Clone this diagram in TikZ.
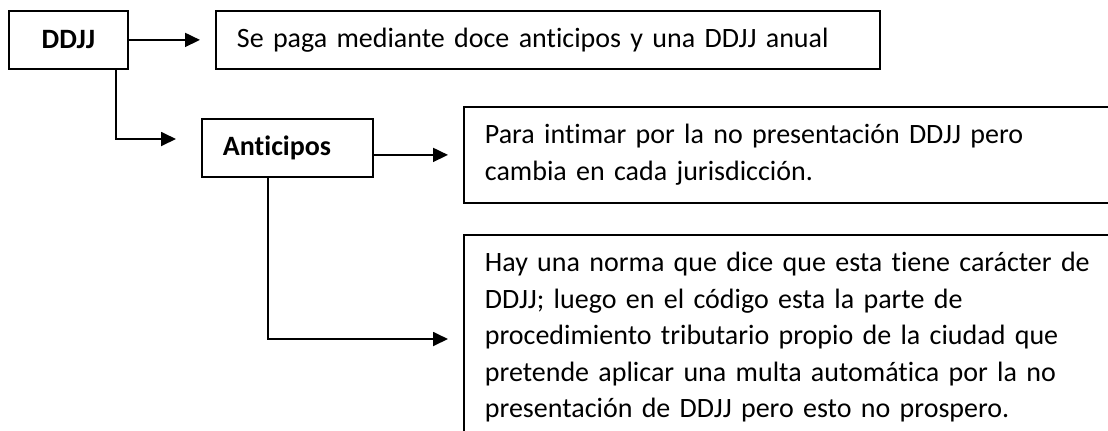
\documentclass[tikz,border=0pt]{standalone}
\usepackage{fontspec}
\setmainfont{Carlito}[Ligatures=NoCommon]
\usetikzlibrary{arrows.meta}
\newcommand\boxfont{\fontsize{14}{18.25}\selectfont}
\tikzset{
	box/.style={draw, line width=0.9pt, anchor=north west, inner xsep=10.5pt, inner ysep=0pt, align=left, font=\boxfont},
	arr/.style={line width=0.9pt, -{Triangle[length=7.5pt,width=7pt]}, shorten >=7.5pt},
}

\begin{document}
\begin{tikzpicture}[x=0.5pt, y=-0.5pt]
			%%%%% START %%%%%
			
			\clip (0, 0) rectangle (1108, 430);
			\fill[white] (0, 0) rectangle (1108, 430);
			
			\node[box, align=center, inner xsep=0pt, minimum width=59.5pt, minimum height=29pt, font=\boxfont\bfseries] (ddjj) at (8, 10) {DDJJ};
			\node[box, text width=311pt, minimum height=29pt] (pago) at (215, 10) {\mbox{Se paga mediante doce anticipos y una DDJJ anual}};
			
			\node[box, text width=64.5pt, minimum height=29pt, font=\boxfont\bfseries] (antic) at (201, 118) {Anticipos};
			
			\node[box, text width=340pt, minimum height=48pt] (intimar) at (463, 106) {Para intimar por la no presentación DDJJ pero\\cambia en cada jurisdicción.};
			
			\node[box, text width=340pt, inner ysep=8.6pt] (norma) at (463, 234) {Hay una norma que dice que esta tiene carácter de\\DDJJ; luego en el código esta la parte de\\procedimiento tributario propio de la ciudad que\\pretende aplicar una multa automática por la no\\presentación de DDJJ pero esto no prospero.};
			
			\coordinate (codo1) at (116, 139);
			\coordinate (codo2) at (268, 339);
			
			\draw[arr] (ddjj.east) -- (pago.west);
			\draw[arr, shorten >=12.5pt] (ddjj.south -| codo1) |- (antic.west |- codo1);
			\draw[arr] (antic.east |- intimar.west) -- (intimar.west);
			\draw[arr] (antic.south -| codo2) |- (norma.west |- codo2);
			
			%%%%% END %%%%%
\end{tikzpicture}
\end{document}
